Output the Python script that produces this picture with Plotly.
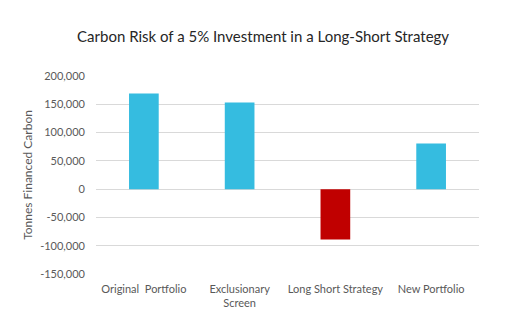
import plotly.graph_objects as go

categories = ["Original  Portfolio", "Exclusionary<br>Screen", "Long Short Strategy", "New Portfolio"]
values = [169000, 153000, -89000, 80500]
colors = ["#35BCE0", "#35BCE0", "#C00000", "#35BCE0"]
tick_vals = [-150000, -100000, -50000, 0, 50000, 100000, 150000, 200000]
tick_text = ["-150,000", "-100,000", "-50,000", "0", "50,000", "100,000", "150,000", "200,000"]

font_family = "Lato, 'Open Sans', sans-serif"

fig = go.Figure(go.Bar(
    x=categories, y=values, marker=dict(color=colors, line=dict(width=0)),
    width=0.31,
))

fig.update_layout(
    width=505, height=325,
    margin=dict(l=96, r=26, t=76, b=51),
    paper_bgcolor="white", plot_bgcolor="white",
    showlegend=False,
    font=dict(family=font_family, color="#595959", size=11),
    title=dict(
        text="Carbon Risk of a 5% Investment in a Long-Short Strategy",
        x=0.521, xanchor="center", y=0.888, yanchor="middle", xref="container", yref="container",
        font=dict(size=15, color="#262626", family=font_family),
    ),
    xaxis=dict(showgrid=False, showline=False, ticks="", ticklabelstandoff=7,
               tickfont=dict(size=11, color="#595959")),
    yaxis=dict(
        range=[-150000, 200000], tickvals=tick_vals, ticktext=tick_text,
        showgrid=True, gridcolor="#D9D9D9", gridwidth=1,
        zeroline=True, zerolinecolor="#D9D9D9", zerolinewidth=1,
        showline=False, ticks="", ticklabelstandoff=10,
        tickfont=dict(size=11, color="#595959"),
        title=dict(text="Tonnes Financed Carbon", font=dict(size=12, color="#595959"), standoff=4),
    ),
)

fig.write_html("out.html")
